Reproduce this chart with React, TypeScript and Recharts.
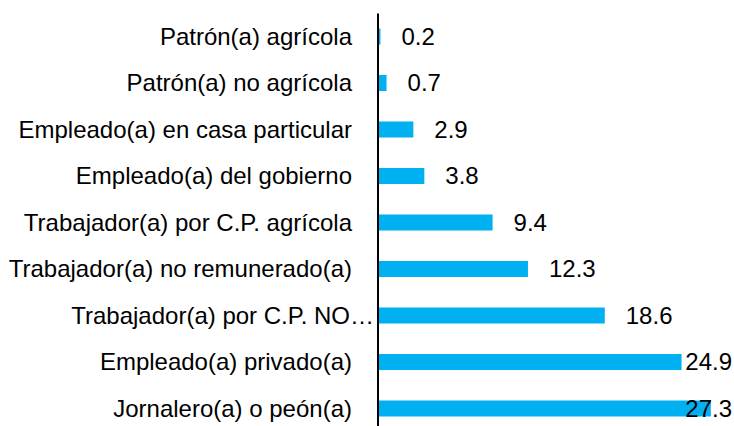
import React from "react";
import { BarChart, Bar, XAxis, YAxis, LabelList } from "recharts";

const categories = [
  "Patrón(a) agrícola",
  "Patrón(a) no agrícola",
  "Empleado(a) en casa particular",
  "Empleado(a) del gobierno",
  "Trabajador(a) por C.P. agrícola",
  "Trabajador(a) no remunerado(a)",
  "Trabajador(a) por C.P. NO…",
  "Empleado(a) privado(a)",
  "Jornalero(a) o peón(a)",
];
const values = [0.2, 0.7, 2.9, 3.8, 9.4, 12.3, 18.6, 24.9, 27.3];
const valueLabels = ["0.2", "0.7", "2.9", "3.8", "9.4", "12.3", "18.6", "24.9", "27.3"];

const data = categories.map((name, i) => ({ name, value: values[i], label: valueLabels[i] }));

const FONT = "'Liberation Sans', Arial, sans-serif";
const FS = 24;
const CHART_W = 734;

const ValueLabel = (props: any) => {
  const { x, y, width, height, value } = props;
  const text = String(value);
  const tw = FS * (0.556 * text.replace(".", "").length + 0.278 * (text.includes(".") ? 1 : 0));
  let lx = x + width + 21;
  const maxRight = CHART_W - 2;
  if (lx + tw > maxRight) lx = maxRight - tw;
  return (
    <text x={lx} y={y + height / 2} dy={8} fontSize={FS} fontFamily={FONT} fill="#000" textAnchor="start">
      {text}
    </text>
  );
};

const CategoryTick = (props: any) => {
  const { x, y, payload } = props;
  const text = String(payload.value);
  const truncated = text.endsWith("…");
  return (
    <text
      x={x + (truncated ? 22 : 0)}
      y={y}
      dy={8}
      fontSize={FS}
      fontFamily={FONT}
      fill="#000"
      textAnchor="end"
    >
      {text}
    </text>
  );
};

export default function App() {
  return (
    <div style={{ position: "absolute", left: 0, top: 0, width: 734, height: 426, overflow: "hidden", background: "#fff" }}>
      <BarChart
        width={734}
        height={440}
        data={data}
        layout="vertical"
        margin={{ top: 13.5, right: 0, bottom: 8, left: 0 }}
      >
        <XAxis type="number" domain={[0, 29.2]} hide />
        <YAxis
          type="category"
          dataKey="name"
          width={378}
          axisLine={{ stroke: "#000", strokeWidth: 2 }}
          tickLine={false}
          tickSize={0}
          tickMargin={26}
          interval={0}
          tick={<CategoryTick />}
        />
        <Bar dataKey="value" fill="#00B0F0" barSize={16} isAnimationActive={false}>
          <LabelList dataKey="label" content={<ValueLabel />} />
        </Bar>
      </BarChart>
    </div>
  );
}
